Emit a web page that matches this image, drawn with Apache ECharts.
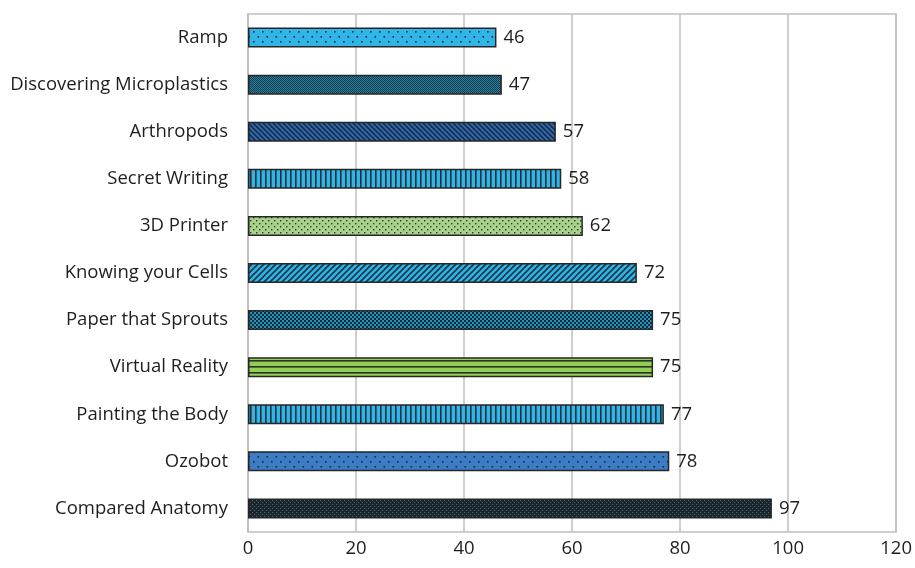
<!DOCTYPE html>
<html>
<head>
<meta charset="utf-8">
<style>
  html, body { margin: 0; padding: 0; background: #fff; }
  #chart { width: 915px; height: 568px; }
</style>
<script src="https://cdn.jsdelivr.net/npm/echarts@6/dist/echarts.min.js"></script>
</head>
<body>
<div id="chart"></div>
<script>
// Workshops, listed top to bottom
const categories = [
  'Ramp', 'Discovering Microplastics', 'Arthropods', 'Secret Writing',
  '3D Printer', 'Knowing your Cells', 'Paper that Sprouts', 'Virtual Reality',
  'Painting the Body', 'Ozobot', 'Compared Anatomy'
];
const values = [46, 47, 57, 58, 62, 72, 75, 75, 77, 78, 97];
// Fill style for each bar: [pattern kind, background, foreground]
const fills = [
  ['sparseDots', '#2fb5e8', '#1d2a33'],
  ['fineGrid', '#24809f', '#1b3a4a'],
  ['backDiag', '#2e6db6', '#1c2c44'],
  ['vLines', '#2fb5e8', '#243038'],
  ['dots', '#a9d38c', '#2a3a26'],
  ['fwdDiag', '#2fb5e8', '#1e3442'],
  ['check', '#1b95c2', '#1c2a33'],
  ['hLines', '#93cf55', '#2a3324'],
  ['vLines', '#2fb5e8', '#243038'],
  ['sparseDots', '#3b7cc4', '#1c2a3c'],
  ['darkDots', '#222528', '#177896']
];
const xTicks = { min: 0, max: 120, interval: 20 };

function makePattern(kind, bg, fg) {
  const c = document.createElement('canvas');
  const sizes = {
    sparseDots: [9, 10], fineGrid: [2, 2], backDiag: [5, 5], vLines: [5, 5],
    dots: [6, 6], fwdDiag: [6, 6], check: [4, 4], hLines: [6, 6], darkDots: [4, 4]
  };
  const [w, h] = sizes[kind];
  c.width = w; c.height = h;
  const g = c.getContext('2d');
  g.fillStyle = bg;
  g.fillRect(0, 0, w, h);
  g.fillStyle = fg;
  g.strokeStyle = fg;
  switch (kind) {
    case 'sparseDots':
      g.fillRect(1, 1, 1.6, 1.6);
      g.fillRect(5.5, 6, 1.6, 1.6);
      break;
    case 'dots':
      g.fillRect(1, 1, 1.4, 1.4);
      g.fillRect(4, 4, 1.4, 1.4);
      break;
    case 'darkDots':
      g.fillRect(0, 0, 1, 1);
      g.fillRect(2, 2, 1, 1);
      break;
    case 'fineGrid':
      g.fillRect(0, 0, 1, 1);
      g.fillRect(1, 1, 1, 1);
      break;
    case 'check':
      g.fillRect(0, 0, 2, 2);
      g.fillRect(2, 2, 2, 2);
      break;
    case 'vLines':
      g.fillRect(0, 0, 1.6, h);
      break;
    case 'hLines':
      g.fillRect(0, 0, w, 1.6);
      break;
    case 'backDiag':
      g.lineWidth = 1.6;
      g.beginPath();
      for (let k = -1; k <= 1; k++) {
        g.moveTo(k * w - 1, -1);
        g.lineTo(k * w + w + 1, h + 1);
      }
      g.stroke();
      break;
    case 'fwdDiag':
      g.lineWidth = 1.6;
      g.beginPath();
      for (let k = -1; k <= 1; k++) {
        g.moveTo(k * w - 1, h + 1);
        g.lineTo(k * w + w + 1, -1);
      }
      g.stroke();
      break;
  }
  return { image: c, repeat: 'repeat' };
}

const FONT = 'Open Sans';
const FS = 18.5;
const chart = echarts.init(document.getElementById('chart'), null, { renderer: 'canvas' });

chart.setOption({
  animation: false,
  backgroundColor: '#ffffff',
  grid: {
    left: 248, right: 17, top: 14, bottom: 36,
    show: true, borderColor: '#bfbfbf', borderWidth: 1.5,
    containLabel: false
  },
  xAxis: {
    type: 'value',
    min: xTicks.min, max: xTicks.max, interval: xTicks.interval,
    axisLine: { show: false },
    axisTick: { show: false },
    splitLine: { show: true, lineStyle: { color: '#bfbfbf', width: 1.5 } },
    axisLabel: { color: '#1e1e1e', fontSize: FS, fontFamily: FONT, margin: 7 }
  },
  yAxis: {
    type: 'category',
    data: categories,
    inverse: true,
    axisLine: { show: true, lineStyle: { color: '#bfbfbf', width: 1.5 } },
    axisTick: { show: false },
    axisLabel: { color: '#1e1e1e', fontSize: FS, fontFamily: FONT, margin: 20 }
  },
  series: [{
    type: 'bar',
    barWidth: 20,
    data: values.map((v, i) => ({
      value: v,
      itemStyle: {
        color: makePattern(fills[i][0], fills[i][1], fills[i][2]),
        borderColor: '#262626',
        borderWidth: 1.5
      }
    })),
    label: {
      show: true,
      position: 'right',
      distance: 7,
      color: '#1e1e1e',
      fontSize: FS,
      fontFamily: FONT
    }
  }]
});
</script>
</body>
</html>
